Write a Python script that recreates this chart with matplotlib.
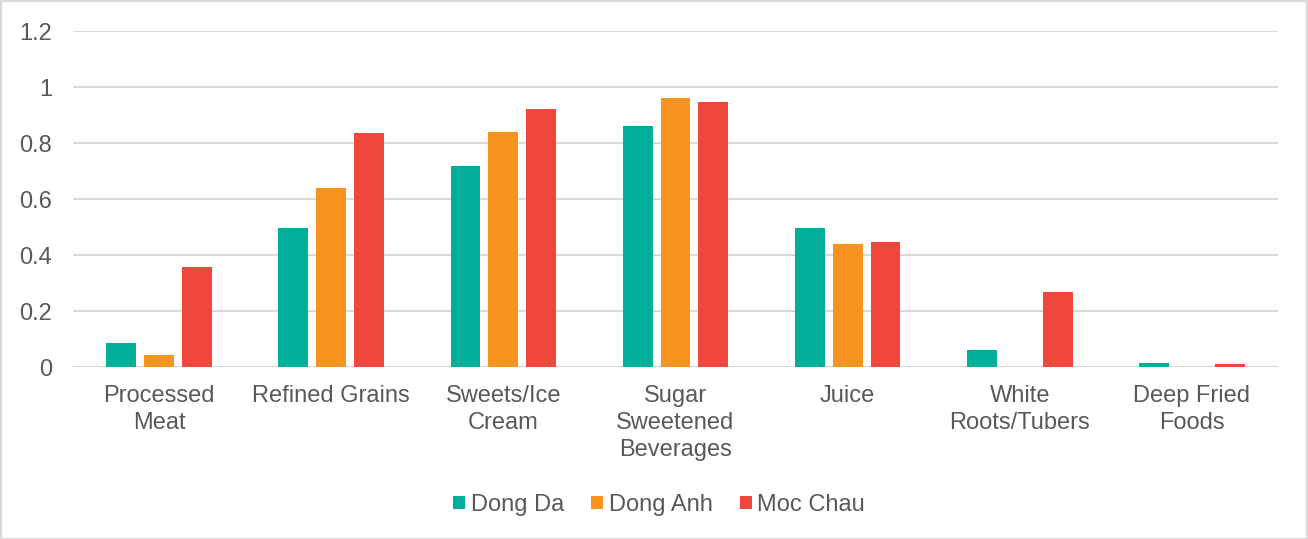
import numpy as np
import matplotlib.pyplot as plt
from matplotlib.patches import Rectangle

plt.rcParams['font.family'] = ['Liberation Sans', 'DejaVu Sans']

categories = ['Processed\nMeat', 'Refined Grains', 'Sweets/Ice\nCream',
              'Sugar\nSweetened\nBeverages', 'Juice', 'White\nRoots/Tubers',
              'Deep Fried\nFoods']
dong_da = [0.085, 0.495, 0.718, 0.86, 0.495, 0.06, 0.013]
dong_anh = [0.042, 0.64, 0.839, 0.96, 0.44, 0.0, 0.0]
moc_chau = [0.357, 0.835, 0.923, 0.945, 0.445, 0.268, 0.012]
series = ['Dong Da', 'Dong Anh', 'Moc Chau']
colors = ['#00AE9A', '#F7931E', '#EF473C']
yticks = [0, 0.2, 0.4, 0.6, 0.8, 1, 1.2]
ytick_labels = ['0', '0.2', '0.4', '0.6', '0.8', '1', '1.2']

text_color = '#595959'
grid_color = '#D9D9D9'
fs = 17

W, H = 1308, 539
fig = plt.figure(figsize=(W / 100, H / 100), dpi=100)
# plot area in pixels: left 73, right 1278, top 31, bottom 367
ax = fig.add_axes([73 / W, 1 - 367 / H, (1278 - 73) / W, (367 - 31) / H])

x = np.arange(len(categories))
width = 0.174
step = 0.22
for i, (vals, name, c) in enumerate(zip([dong_da, dong_anh, moc_chau], series, colors)):
    ax.bar(x + (i - 1) * step, vals, width, color=c, label=name, zorder=3)

ax.set_xlim(-0.5, len(categories) - 0.5)
ax.set_ylim(0, 1.2)
ax.set_yticks(yticks)
ax.set_yticklabels(ytick_labels)
ax.set_xticks(x)
ax.set_xticklabels(categories, linespacing=1.3)
ax.yaxis.grid(True, color=grid_color, linewidth=1.5, zorder=0)
for s in ax.spines.values():
    s.set_visible(False)
ax.axhline(0, color=grid_color, linewidth=1.5, zorder=2)
ax.tick_params(axis='both', length=0, labelsize=fs, colors=text_color)
ax.tick_params(axis='y', pad=15)
ax.tick_params(axis='x', pad=13)

# legend sits a bit left of the plot centre, under the figure centre
leg = ax.legend(loc='center', bbox_to_anchor=((659 - 73) / 1205, (367 - 505) / 336),
                ncol=3, frameon=False, fontsize=fs, handlelength=0.5,
                handleheight=0.5, handletextpad=0.25, columnspacing=1.15)
for t in leg.get_texts():
    t.set_color(text_color)

fig.patches.append(Rectangle((0.5 / W, 0.5 / H), 1 - 1.5 / W, 1 - 1.5 / H,
                             transform=fig.transFigure, fill=False,
                             edgecolor=grid_color, linewidth=1.5))

fig.savefig('out.png', dpi=100)
